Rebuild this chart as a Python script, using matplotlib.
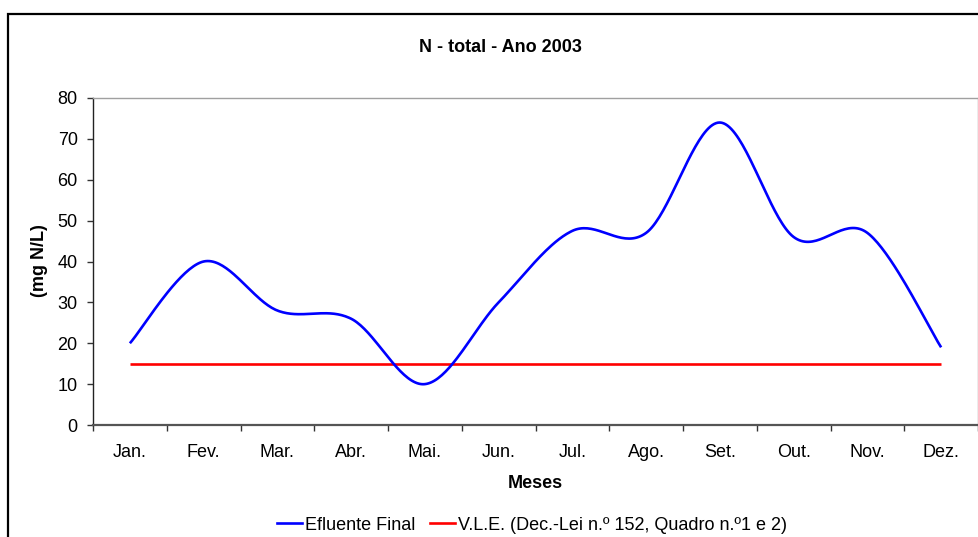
import numpy as np
import matplotlib
matplotlib.use("Agg")
import matplotlib.pyplot as plt
from matplotlib.patches import Rectangle
from matplotlib.lines import Line2D

plt.rcParams['font.family'] = ['Liberation Sans', 'DejaVu Sans']

months = ["Jan.", "Fev.", "Mar.", "Abr.", "Mai.", "Jun.", "Jul.", "Ago.", "Set.", "Out.", "Nov.", "Dez."]
efluente = [20, 40, 28, 26, 10, 30, 47.5, 47, 74, 46, 47, 19]
vle = [15] * 12
yticks = [0, 10, 20, 30, 40, 50, 60, 70, 80]

W, H = 979, 537
FS = 13
fig = plt.figure(figsize=(W / 100, H / 100), dpi=100)

# outer chart frame
fig.patches.append(Rectangle((8 / W, -0.05), 1.2, 1 - 14 / H + 0.05, transform=fig.transFigure,
                             fill=False, edgecolor='black', linewidth=1.6))

ax = fig.add_axes([93 / W, 1 - 425 / H, 885 / W, 327 / H])


def excel_smooth(xs, ys, n=40):
    xs = np.asarray(xs, float)
    ys = np.asarray(ys, float)
    P = np.column_stack([xs, ys])
    out = []
    m = len(P)
    for i in range(m - 1):
        p0 = P[max(i - 1, 0)]
        p1 = P[i]
        p2 = P[i + 1]
        p3 = P[min(i + 2, m - 1)]
        c1 = p1 + (p2 - p0) / 6.0
        c2 = p2 - (p3 - p1) / 6.0
        t = np.linspace(0, 1, n)[:, None]
        seg = (1 - t) ** 3 * p1 + 3 * (1 - t) ** 2 * t * c1 + 3 * (1 - t) * t ** 2 * c2 + t ** 3 * p2
        out.append(seg if i == 0 else seg[1:])
    pts = np.vstack(out)
    return pts[:, 0], pts[:, 1]


x = np.arange(len(months))
sx, sy = excel_smooth(x, efluente)
ax.plot(sx, sy, color='#0000FF', linewidth=1.9, solid_capstyle='butt', zorder=3)
ax.plot(x, vle, color='#FF0000', linewidth=1.9, solid_capstyle='butt', zorder=2)

ax.set_xlim(-0.5, len(months) - 0.5)
ax.set_ylim(0, 80)
ax.set_yticks(yticks)
ax.set_yticklabels([str(v) for v in yticks], fontsize=FS)
ax.set_xticks(x)
ax.set_xticklabels(months, fontsize=FS)
ax.set_xticks(np.arange(-0.5, len(months)), minor=True)
ax.tick_params(axis='x', which='major', length=0, pad=14)
ax.tick_params(axis='x', which='minor', length=4, width=1, color='#333333', direction='out')
ax.tick_params(axis='y', length=4, width=1, color='#333333', direction='out', pad=7)

for s in ['top', 'right']:
    ax.spines[s].set_color('#a0a0a0')
    ax.spines[s].set_linewidth(1.0)
ax.spines['left'].set_color('#222222')
ax.spines['left'].set_linewidth(1.0)
ax.spines['bottom'].set_color('#555555')
ax.spines['bottom'].set_linewidth(1.6)

fig.text(500 / W, 1 - 48 / H, "N - total - Ano 2003", ha='center', va='center', fontsize=FS, fontweight='bold')
fig.text(535 / W, 1 - 484 / H, "Meses", ha='center', va='center', fontsize=FS, fontweight='bold')
fig.text(40 / W, 1 - 261 / H, "(mg N/L)", ha='center', va='center', rotation=90, fontsize=FS, fontweight='bold')

handles = [Line2D([], [], color='#0000FF', linewidth=1.9),
           Line2D([], [], color='#FF0000', linewidth=1.9)]
labels = ["Efluente Final", "V.L.E. (Dec.-Lei n.º 152, Quadro n.º1 e 2)"]
fig.legend(handles, labels, loc='center', bbox_to_anchor=(532 / W, 1 - 525 / H), ncol=2,
           frameon=False, fontsize=FS, handlelength=1.4, handletextpad=0.15, columnspacing=0.8,
           borderpad=0, borderaxespad=0)

fig.savefig("out.png", dpi=100)
